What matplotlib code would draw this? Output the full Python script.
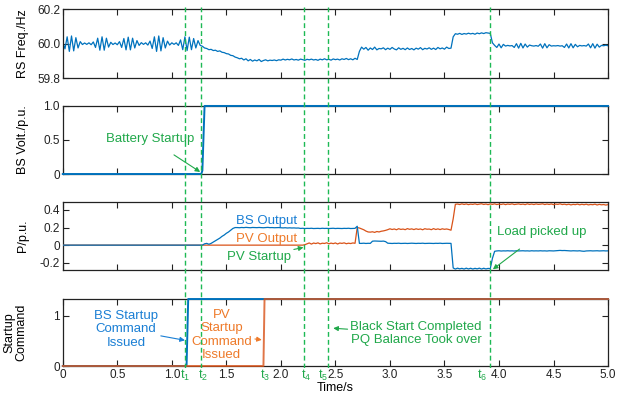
import numpy as np
import matplotlib
matplotlib.use('Agg')
import matplotlib.pyplot as plt

plt.rcParams['font.family'] = ['Liberation Sans', 'DejaVu Sans']
plt.rcParams['mathtext.default'] = 'regular'

# sample step of the recorded traces (s)
dt = 0.02

# RS frequency deviation from 60 Hz, in mHz, one value every dt
freq_dev = [10, -30, 40, -45, 45, -42, 35, -25, 12, -5,
            4, -4, 5, -6, 10, -22, 32, -38, 40, -38,
            32, -20, 8, -5, 4, -6, 12, -22, 30, -36,
            38, -36, 32, -25, 18, -10, 6, -4, 5, -8,
            15, -28, 40, -45, 45, -42, 35, -25, 15, -8,
            5, -4, 5, -10, 22, -35, 40, -40, 38, -35,
            30, -25, 18, -10,
            -15, -25, -28, -35, -33, -40, -38, -45, -42, -50,
            -52, -58, -60, -68, -70, -78, -82, -88, -85, -95,
            -88, -100, -92, -102, -95, -100, -92, -104, -98, -94,
            -100, -96, -98, -95, -99, -94,
            -96, -90, -95, -91, -94, -89, -95, -92, -96, -90,
            -93, -97, -91, -94, -90, -95, -92, -97, -90, -94,
            -88, -94, -91, -96, -89, -93, -90, -95, -88, -92,
            -86, -93, -88, -94, -85, -92,
            -45, -20,
            -32, -22, -38, -25, -34, -20, -36, -28, -30, -24,
            -35, -26, -33, -22, -31, -36, -24, -33, -27, -35,
            -25, -34, -28, -36, -26, -32, -23, -35, -27, -31,
            -24, -33, -26, -34, -22, -30, -25, -32, -20, -28,
            -26,
            40, 58,
            55, 60, 54, 59, 56, 61, 57, 60, 55, 62, 58, 63, 59, 64, 62,
            60, 5, -10,
            -22, -2, -24, -4, -14, -10, -13, -11, -22, 0,
            -26, 2, -25, -2, -20, -8, -12, -14, -11, -15,
            -2, -26, 0, -24, -6, -14, -12, -13, -11, -14,
            -12, -22, -2, -25, 0, -24, -4, -18, -10, -13,
            -11, -14, -2, -24, 0, -26, -3, -20, -10, -12,
            -9, -12]

# BS voltage (p.u.)
volt_t = [0, 1.27, 1.28, 1.30, 5.0]
volt_v = [0, 0, 0.05, 1.0, 1.0]

# active power in 1e-3 p.u., one value every dt
bs_p = ([0] * 64 +
        [0, 15, 20, 10, 20, 35, 50, 65, 80, 100, 115, 135, 150, 170, 190, 200] +
        [200, 198, 201, 199, 202, 200, 198, 201, 200, 199,
         201, 200, 198, 200, 202, 199, 200, 198, 199, 200] +
        [198, 196, 198, 195, 197, 195, 196, 194, 195] +
        [190, 192, 189, 191, 190, 192, 189, 190, 191, 189, 192, 190, 191,
         189, 190, 192, 189, 191, 190, 189, 191, 190, 192, 189, 190, 191] +
        [215, 20, 20, 22, 19, 21, 20, 45, 47, 46, 45, 44, 46, 40] +
        [22, 20, 19, 21, 20, 22, 19, 20, 21, 19, 20, 22, 20, 19, 21,
         20, 22, 19, 20, 21, 20, 19, 21, 20, 22, 19, 20, 21, 20] +
        [20, -260] +
        [-272, -262, -270, -264, -272, -262, -271, -263,
         -272, -264, -270, -262, -272, -263, -271, -265] +
        [-268, -150, -70] +
        [-66, -64, -67, -65, -66, -64, -66, -65, -67, -64,
         -66, -65, -64, -66, -65, -67, -64, -66, -65, -66,
         -64, -66, -65, -67, -64, -65, -66, -64, -62, -60,
         -62, -61, -63, -64, -66, -64, -65, -66, -64, -68,
         -70, -66, -65, -64, -66, -65, -64, -66, -65, -64,
         -66, -65])

pv_p = ([0] * 111 +
        [5, 15, 25, 12, 24, 18, 26, 14, 22, 19, 27, 15, 23, 17, 25,
         13, 24, 20, 26, 16, 22, 18, 25, 21] +
        [200, 195, 185, 175, 160, 150, 148, 152, 145, 155, 150, 158, 162, 168] +
        [176, 186, 178, 184, 175, 187, 179, 183, 176, 188, 180, 185, 177, 186, 179,
         184, 175, 187, 181, 183, 176, 188, 178, 185, 177, 186, 180, 184, 178] +
        [170, 300, 465] +
        [468, 462, 470, 463, 469, 461, 467, 464, 470, 462,
         466, 471, 463, 468, 461, 469, 464, 470, 462, 467,
         463, 469, 461, 468, 464, 470, 462, 466, 469, 463,
         467, 461, 470, 463, 468, 462, 469, 464, 466, 470,
         462, 468, 463, 469, 461, 467, 464, 470, 462, 466,
         460, 466, 458, 464, 461, 467, 459, 465, 460, 466,
         458, 463, 460, 466, 457, 464, 459, 462, 456, 461])

# startup commands
cmd_top = 1.33
bs_cmd_t = [0, 1.135, 1.15, 5.0]
pv_cmd_t = [0, 1.84, 1.85, 5.0]
cmd_v = [0, 0, cmd_top, cmd_top]

# event instants
event_t = [1.124, 1.27, 2.21, 2.436, 3.92]
event_lbl = ['t$_1$', 't$_2$', 't$_3$', 't$_4$', 't$_5$', 't$_6$']
event_lbl_x = [1.12, 1.29, 1.85, 2.23, 2.39, 3.845]

blue = '#0072BD'
orange = '#D95319'
green = '#1DB954'
txt_green = '#20A84A'
txt_blue = '#1A7FD4'
txt_orange = '#EE7A2A'

fig = plt.figure(figsize=(6.26, 3.98), dpi=100)
L, W = 0.1003, 0.871
ax1 = fig.add_axes([L, 0.804, W, 0.1725])
ax2 = fig.add_axes([L, 0.5628, W, 0.171])
ax3 = fig.add_axes([L, 0.3216, W, 0.170])
ax4 = fig.add_axes([L, 0.0804, W, 0.1683])
axes = [ax1, ax2, ax3, ax4]

t_freq = np.arange(len(freq_dev)) * dt
ax1.plot(t_freq, 60 + np.array(freq_dev) / 1000, color=blue, lw=0.9)
ax1.set_ylim(59.8, 60.2)
ax1.set_yticks([59.8, 60.0, 60.2])
ax1.set_yticklabels(['59.8', '60.0', '60.2'])
ax1.set_ylabel('RS Freq./Hz', fontsize=9)

ax2.plot(volt_t, volt_v, color=blue, lw=1.4, zorder=3, clip_on=False)
ax2.set_ylim(0, 1.0)
ax2.set_yticks([0, 0.5, 1.0])
ax2.set_yticklabels(['0', '0.5', '1.0'])
ax2.set_ylabel('BS Volt./p.u.', fontsize=9)

t_bs = np.arange(len(bs_p)) * dt
t_pv = np.arange(len(pv_p)) * dt
ax3.plot(t_pv, np.array(pv_p) / 1000, color=orange, lw=0.9, zorder=3)
ax3.plot(t_bs, np.array(bs_p) / 1000, color=blue, lw=0.9, zorder=3)
ax3.set_ylim(-0.283, 0.487)
ax3.set_yticks([-0.2, 0, 0.2, 0.4])
ax3.set_yticklabels(['-0.2', '0', '0.2', '0.4'])
ax3.set_ylabel('P/p.u.', fontsize=9)

ax4.plot(bs_cmd_t, cmd_v, color=blue, lw=1.4, zorder=3, clip_on=False)
ax4.plot(pv_cmd_t, cmd_v, color=orange, lw=1.4, alpha=0.8, zorder=3, clip_on=False)
ax4.set_ylim(0, cmd_top)
ax4.set_yticks([0, 1])
ax4.set_yticklabels(['0', '1'])
ax4.set_ylabel('Startup\nCommand', fontsize=9, linespacing=1.0)
ax4.set_xlabel('Time/s', fontsize=9, labelpad=1)

for ax in axes:
    ax.set_xlim(0, 5)
    ax.set_xticks(np.arange(0, 5.01, 0.5))
    ax.tick_params(direction='in', top=True, right=True, length=4,
                   width=0.8, labelsize=8.5, colors='#222222', pad=2)
    for s in ax.spines.values():
        s.set_linewidth(0.9)
        s.set_color('#222222')
    ax.yaxis.set_label_coords(-0.062, 0.5)
for ax in axes[:3]:
    ax.set_xticklabels([])
ax4.set_xticklabels(['0', '0.5', '1.0', '1.5', '2.0', '2.5',
                     '3.0', '3.5', '4.0', '4.5', '5.0'])
ax4.yaxis.set_label_coords(-0.065, 0.5)

# dashed event lines across all panels
ov = fig.add_axes([L, 0.0754, W, 0.9824 - 0.0754])
ov.set_xlim(0, 5)
ov.set_ylim(0, 1)
ov.axis('off')
ov.patch.set_alpha(0)
for t in event_t:
    ov.axvline(t, color=green, lw=1.0, ls=(0, (3.5, 2.2)))

for x, s in zip(event_lbl_x, event_lbl):
    ax4.text(x, -0.03, s, transform=ax4.get_xaxis_transform(), color=txt_green,
             fontsize=9, ha='center', va='top')

arw = dict(arrowstyle='-|>', lw=0.8, mutation_scale=7)
ax2.annotate('Battery Startup', xy=(1.26, 0.03), xytext=(0.8, 0.51),
             color=txt_green, fontsize=9.5, ha='center', va='center',
             arrowprops=dict(color=txt_green, **arw, shrinkA=9, shrinkB=0))
ax3.text(1.865, 0.276, 'BS Output', color=txt_blue, fontsize=9.5, ha='center', va='center')
ax3.text(1.865, 0.065, 'PV Output', color=txt_orange, fontsize=9.5, ha='center', va='center')
ax3.annotate('PV Startup', xy=(2.207, -0.026), xytext=(1.80, -0.133),
             color=txt_green, fontsize=9.5, ha='center', va='center',
             arrowprops=dict(color=txt_green, **arw, shrinkA=28, shrinkB=0))
ax3.annotate('Load picked up', xy=(3.944, -0.275), xytext=(4.396, 0.151),
             color=txt_green, fontsize=9.5, ha='center', va='center',
             arrowprops=dict(color=txt_green, **arw, shrinkA=10, shrinkB=0))
ax4.annotate('BS Startup\nCommand\nIssued', xy=(1.12, 0.51), xytext=(0.58, 0.725),
             color=txt_blue, fontsize=9.5, ha='center', va='center', linespacing=1.15,
             arrowprops=dict(color=txt_blue, **arw, shrinkA=38, shrinkB=0))
ax4.annotate('PV\nStartup\nCommand\nIssued', xy=(1.825, 0.52), xytext=(1.458, 0.614),
             color=txt_orange, fontsize=9.5, ha='center', va='center', linespacing=1.15,
             arrowprops=dict(color=txt_orange, **arw, shrinkA=30, shrinkB=0))
ax4.annotate('Black Start Completed\nPQ Balance Took over', xy=(2.48, 0.75),
             xytext=(3.24, 0.64), color=txt_green, fontsize=9.5, ha='center',
             va='center', linespacing=1.15,
             arrowprops=dict(color=txt_green, **arw, shrinkA=62, shrinkB=0))

fig.savefig('out.png', dpi=100)
